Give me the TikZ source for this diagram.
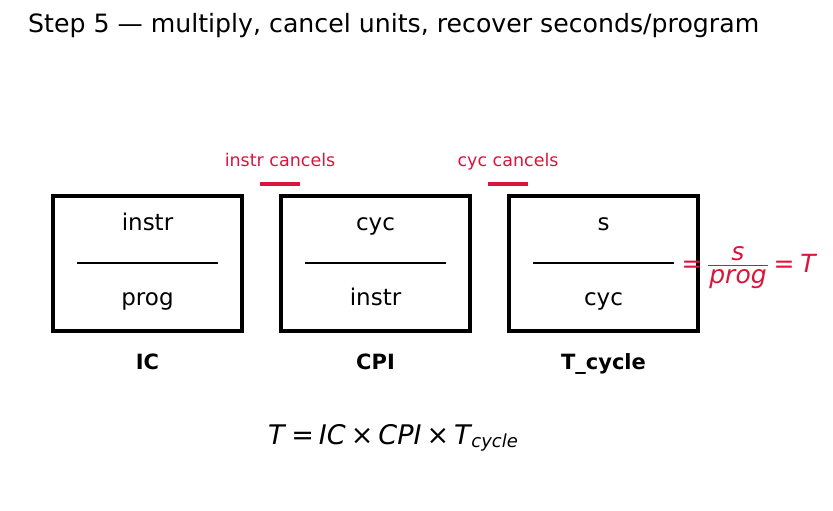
\documentclass[tikz,border=0pt]{standalone}
\usepackage{fontspec}
\setmainfont{DejaVu Sans}
\definecolor{crim}{HTML}{DC143C}
\tikzset{
  unitbox/.style={draw=black, line width=4.4pt},
  fracline/.style={draw=black, line width=2.8pt},
  cancelbar/.style={draw=crim, line width=4pt},
  redbar/.style={draw=crim, line width=1.3pt},
  unittext/.style={font=\fontsize{23}{27}\selectfont, anchor=base, inner sep=0pt},
  boxlabel/.style={font=\fontsize{21}{25}\selectfont\bfseries, anchor=base, inner sep=0pt},
  cancellabel/.style={font=\fontsize{17.5}{21}\selectfont, text=crim, anchor=base, inner sep=0pt},
  redmath/.style={font=\fontsize{25}{29}\selectfont, text=crim, anchor=base, inner sep=0pt},
}
\newcommand{\gp}{\hspace{5pt}}
\begin{document}
\begin{tikzpicture}[x=1pt,y=-1pt]
\useasboundingbox (0,0) rectangle (833,511);
% title
\node[anchor=base west, inner sep=0pt, font=\fontsize{25.2}{29}\selectfont] (title) at (28,33) {Step 5 — multiply, cancel units, recover seconds/program};
% boxes
\foreach \n/\x/\num/\den/\lab in {b1/53/instr/prog/IC, b2/281/cyc/instr/CPI, b3/509/s/cyc/T\_cycle}{
  \draw[unitbox] (\x,196) rectangle ++(189,135);
  \coordinate (\n) at (\x+94.5,263);
  \draw[fracline] ([xshift=-70.5pt]\n) -- ([xshift=70.5pt]\n);
  \node[unittext] (\n num) at (\x+94.5,230) {\num};
  \node[unittext] (\n den) at (\x+94.5,305) {\den};
  \node[boxlabel] (\n lab) at (\x+94.5,369) {\lab};
}
% cancel marks
\node[cancellabel] (c1) at (280,166) {instr cancels};
\node[cancellabel] (c2) at (508,166) {cyc cancels};
\coordinate (c1a) at (260,184); \coordinate (c1b) at (300,184);
\coordinate (c2a) at (488,184); \coordinate (c2b) at (528,184);
\draw[cancelbar] (c1a) -- (c1b);
\draw[cancelbar] (c2a) -- (c2b);
% red equation
\node[redmath] (req1) at (692,272) {=};
\node[redmath] (rnum) at (738,260) {\itshape s};
\coordinate (rba) at (708,265.5); \coordinate (rbb) at (768,265.5);
\draw[redbar] (rba) -- (rbb);
\node[redmath] (rden) at (738,283) {\itshape prog};
\node[redmath] (req2) at (784,272) {=};
\node[redmath] (rT) at (808,272) {\itshape T};
% bottom formula
\node[anchor=base, inner sep=0pt, font=\fontsize{27}{31}\selectfont] (formula) at (393,444)
  {\textit{T}\gp=\gp\textit{IC}\gp×\gp\textit{CPI}\gp×\gp\textit{T}\hspace{-1pt}\raisebox{-3pt}{\fontsize{18}{22}\selectfont\itshape cycle}};
\end{tikzpicture}
\end{document}
